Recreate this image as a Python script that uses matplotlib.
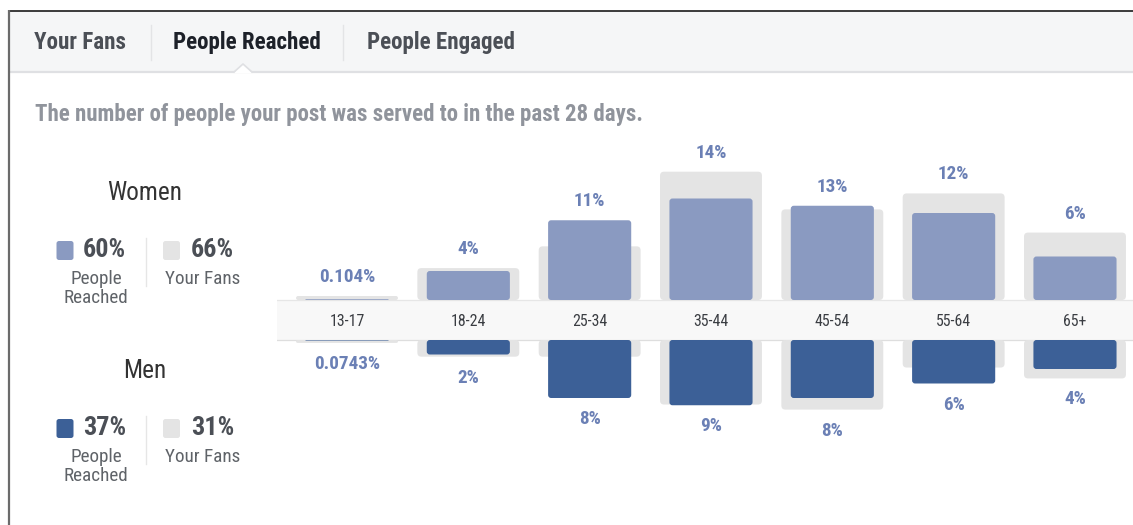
import matplotlib
matplotlib.use("Agg")
import matplotlib.pyplot as plt
from matplotlib import font_manager
from matplotlib.patches import FancyBboxPatch, Rectangle, Polygon

# A narrow sans face suits the tall, tight lettering of this panel.
_names = {f.name for f in font_manager.fontManager.ttflist}
FONT, K = "Liberation Sans", 0.84
for _name, _k in (("Liberation Sans Narrow", 1.0), ("Roboto Condensed", 1.0),
                  ("Arial Narrow", 1.0)):
    if _name in _names:
        FONT, K = _name, _k
        break
plt.rcParams["font.family"] = [FONT, "DejaVu Sans"]

# ---- data -------------------------------------------------------------
age_groups = ["13-17", "18-24", "25-34", "35-44", "45-54", "55-64", "65+"]
women_reached = [0.104, 4, 11, 14, 13, 12, 6]
men_reached = [0.0743, 2, 8, 9, 8, 6, 4]
women_fans = [0.55, 4.4, 7.4, 17.7, 12.5, 14.7, 9.3]
men_fans = [0.4, 2.3, 2.3, 8.9, 9.6, 3.8, 5.3]

tabs = ["Your Fans", "People Reached", "People Engaged"]
subtitle = "The number of people your post was served to in the past 28 days."
women_totals = {"reached": "60%", "fans": "66%"}
men_totals = {"reached": "37%", "fans": "31%"}

# ---- colours -----------------------------------------------------------
WOMEN_C = "#8a9ac1"
MEN_C = "#3c6097"
FANS_C = "#e4e4e4"
LABEL_C = "#6b80b5"
DARK_TXT = "#4b4f56"
SOFT_TXT = "#5f6368"

W, H = 1133, 525
fig = plt.figure(figsize=(W / 100, H / 100), dpi=100)
fig.patch.set_facecolor("white")

# pixel-space layer for the page furniture
bg = fig.add_axes([0, 0, 1, 1])
bg.set_xlim(0, W)
bg.set_ylim(H, 0)
bg.axis("off")

# page frame
bg.add_patch(Rectangle((9, 11), W - 9, 61, facecolor="#f5f6f7", edgecolor="none"))
bg.plot([9, W], [72, 72], color="#dfe0e3", lw=1.6, solid_capstyle="butt")
bg.add_patch(Polygon([[234, 73], [243, 64], [252, 73]], closed=True,
                     facecolor="white", edgecolor="none", zorder=3))
bg.plot([234, 243, 252], [72, 64, 72], color="#dfe0e3", lw=1.2, zorder=4)
bg.plot([8, W], [10.5, 10.5], color="#1a1a1a", lw=1.2, solid_capstyle="butt")
bg.plot([8.5, 8.5], [10, H], color="#6b6b6b", lw=1.6, solid_capstyle="butt")

# tabs
tab_x = [80, 246.5, 441]
tab_colors = [DARK_TXT, "#1d2129", DARK_TXT]
for t, x, c in zip(tabs, tab_x, tab_colors):
    bg.text(x, 49.3, t, ha="center", va="baseline", fontsize=16.6 * K,
            fontweight="bold", color=c)
for x in (151, 343):
    bg.plot([x, x], [25, 60], color="#e3e4e6", lw=1)

bg.text(35, 121.5, subtitle, ha="left", va="baseline", fontsize=16.5 * K,
        fontweight="bold", color="#90949c")


# gender summary blocks
def summary(y0, title, totals, reached_color):
    bg.text(145, y0 + 9, title, ha="center", va="baseline",
            fontsize=18.2 * K, color="#333333")
    sy = y0 + 50
    bg.add_patch(FancyBboxPatch((56.5, sy), 17, 19,
                                boxstyle="round,pad=0,rounding_size=2.5",
                                facecolor=reached_color, edgecolor="none"))
    bg.text(83, sy + 16, totals["reached"], ha="left", va="baseline",
            fontsize=18.8 * K, fontweight="bold", color=DARK_TXT)
    bg.text(96, sy + 42.5, "People", ha="center", va="baseline",
            fontsize=13.8 * K, color=SOFT_TXT)
    bg.text(96, sy + 62, "Reached", ha="center", va="baseline",
            fontsize=13.8 * K, color=SOFT_TXT)
    bg.plot([146, 146], [sy - 3, sy + 45], color="#e6e6e6", lw=1)
    bg.add_patch(FancyBboxPatch((163, sy), 17, 19,
                                boxstyle="round,pad=0,rounding_size=2.5",
                                facecolor=FANS_C, edgecolor="none"))
    bg.text(191, sy + 16, totals["fans"], ha="left", va="baseline",
            fontsize=18.8 * K, fontweight="bold", color=DARK_TXT)
    bg.text(203, sy + 42.5, "Your Fans", ha="center", va="baseline",
            fontsize=13.8 * K, color=SOFT_TXT)


summary(191, "Women", women_totals, WOMEN_C)
summary(369, "Men", men_totals, MEN_C)

# ---- bar chart -----------------------------------------------------------
X0, X1 = 277, 1133           # axes horizontal extent (px)
Y_TOP, Y_BOT = 140, 450      # axes vertical extent (px)
FIRST_C, STEP = 347, 121.33  # first category centre and spacing (px)
MID = 320                    # centre of the age band (px)
PX_PER_PCT = 7.25
GAP = 20 / PX_PER_PCT        # half height of the age band in data units

ax = fig.add_axes([X0 / W, (H - Y_BOT) / H, (X1 - X0) / W, (Y_BOT - Y_TOP) / H])
ax.set_xlim((X0 - FIRST_C) / STEP, (X1 - FIRST_C) / STEP)
ax.set_ylim(-(Y_BOT - MID) / PX_PER_PCT, (MID - Y_TOP) / PX_PER_PCT)
ax.axis("off")
ax.patch.set_alpha(0)

x = list(range(len(age_groups)))


def rounded(bars, r_px, z):
    aspect = STEP / PX_PER_PCT
    for rect in list(bars):
        bx, by = rect.get_xy()
        bw, bh = rect.get_width(), rect.get_height()
        if bh < 0:
            by, bh = by + bh, -bh
        r = min(r_px, bh * PX_PER_PCT / 2, bw * STEP / 2)
        rect.remove()
        ax.add_patch(FancyBboxPatch((bx, by), bw, bh,
                                    boxstyle=f"round,pad=0,rounding_size={r / STEP}",
                                    mutation_aspect=aspect,
                                    facecolor=rect.get_facecolor(),
                                    edgecolor="none", zorder=z))


# age band (drawn under the bars so hairline bars at its edges stay visible)
ax.axhspan(-GAP, GAP, facecolor="#f8f8f8", edgecolor="none", zorder=0.5)
ax.axhline(GAP, color="#e6e6e6", lw=0.9, zorder=0.6)
ax.axhline(-GAP, color="#dedede", lw=0.9, zorder=0.6)

rounded(ax.bar(x, women_fans, width=0.84, bottom=GAP, color=FANS_C), 4, 1)
rounded(ax.bar(x, [-v for v in men_fans], width=0.84, bottom=-GAP, color=FANS_C), 4, 1)
rounded(ax.bar(x, women_reached, width=0.685, bottom=GAP, color=WOMEN_C), 3, 2)
rounded(ax.bar(x, [-v for v in men_reached], width=0.685, bottom=-GAP, color=MEN_C), 3, 2)

for i, g in zip(x, age_groups):
    ax.annotate(g, (i, 0), xytext=(0, -6.5), textcoords="offset pixels",
                ha="center", va="baseline", fontsize=11.4 * K,
                color="#3a3d42", zorder=5)

# value labels
for i, wr, wf, mr, mf in zip(x, women_reached, women_fans, men_reached, men_fans):
    ax.annotate(f"{wr:g}%", (i, GAP + max(wr, wf)), xytext=(0, 14),
                textcoords="offset pixels", ha="center", va="baseline",
                fontsize=13.8 * K, fontweight="bold", color=LABEL_C)
    ax.annotate(f"{mr:g}%", (i, -GAP - max(mr, mf)), xytext=(0, -26),
                textcoords="offset pixels", ha="center", va="baseline",
                fontsize=13.8 * K, fontweight="bold", color=LABEL_C)

fig.savefig("out.png", dpi=100, facecolor="white")
